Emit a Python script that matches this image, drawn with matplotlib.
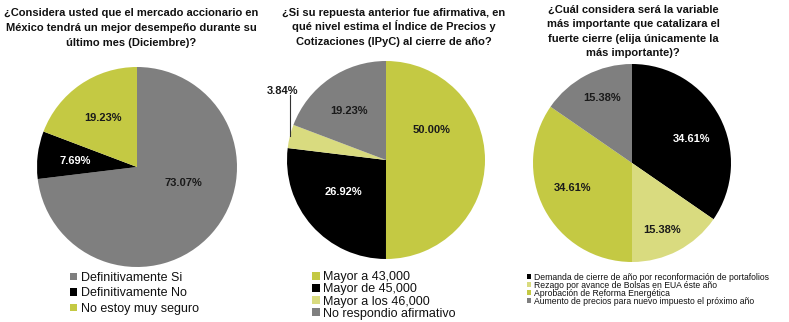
import matplotlib
matplotlib.use("Agg")
import matplotlib.pyplot as plt
import numpy as np

plt.rcParams['font.family'] = ['Liberation Sans', 'DejaVu Sans']

W, H = 789, 322

# ---- data ----
titles = [
    "¿Considera usted que el mercado accionario en\nMéxico tendrá un mejor desempeño durante su\núltimo mes (Diciembre)?",
    "¿Si su repuesta anterior fue afirmativa, en\nqué nivel estima el Índice de Precios y\nCotizaciones (IPyC) al cierre de año?",
    "¿Cuál considera será la variable\nmás importante que catalizara el\nfuerte cierre (elija únicamente la\nmás importante)?",
]
labels1 = ["Definitivamente Si", "Definitivamente No", "No estoy muy seguro"]
values1 = [73.07, 7.69, 19.23]
labels2 = ["Mayor a 43,000", "Mayor de 45,000", "Mayor a los 46,000", "No respondio afirmativo"]
values2 = [50.00, 26.92, 3.84, 19.23]
labels3 = ["Demanda de cierre de año por reconformación de portafolios",
           "Rezago por avance de Bolsas en EUA éste año",
           "Aprobación de Reforma Energética",
           "Aumento de precios para nuevo impuesto el próximo año"]
values3 = [34.61, 15.38, 34.61, 15.38]

# ---- style ----
GRAY = "#7f7f7f"
BLACK = "#000000"
YG = "#c4c943"
LIGHT = "#d9db7f"
colors1 = [GRAY, BLACK, YG]
colors2 = [YG, BLACK, LIGHT, GRAY]
colors3 = [BLACK, LIGHT, YG, GRAY]
txtc1 = ["#1a1a1a", "white", "#1a1a1a"]
txtc2 = ["#1a1a1a", "white", "#1a1a1a", "#1a1a1a"]
txtc3 = ["white", "#1a1a1a", "#1a1a1a", "#1a1a1a"]
# label placement (radius, angle deg) per wedge; None = outside label
place1 = [(0.49, -19), (0.62, 174), (0.60, 125)]
place2 = [(0.55, 33), (0.54, 217), None, (0.62, 127)]
place3 = [(0.65, 22), (0.74, -66), (0.65, 203), (0.72, 115)]

# pie geometry in pixels: (cx, cy, r)
geo = [(137, 167, 100), (386, 160, 99), (632, 163, 99)]

fig = plt.figure(figsize=(W / 100, H / 100), dpi=100)
fig.patch.set_facecolor("white")


def make_ax(cx, cy, r):
    ax = fig.add_axes([(cx - r) / W, (H - cy - r) / H, 2 * r / W, 2 * r / H])
    return ax


def draw(ax, vals, cols, tcols, place):
    wedges, _ = ax.pie(vals, colors=cols, startangle=90, counterclock=False,
                       wedgeprops=dict(linewidth=0))
    ax.set_xlim(-1, 1)
    ax.set_ylim(-1, 1)
    ax.set_aspect('equal')
    for v, tc, p in zip(vals, tcols, place):
        if p is None:
            continue
        rr, a = p
        ax.text(rr * np.cos(np.radians(a)), rr * np.sin(np.radians(a)),
                f"{v:.2f}%", ha='center', va='center', color=tc,
                fontsize=8, fontweight='bold')
    return wedges


axes = []
for g in geo:
    axes.append(make_ax(*g))

w1 = draw(axes[0], values1, colors1, txtc1, place1)
w2 = draw(axes[1], values2, colors2, txtc2, place2)
w3 = draw(axes[2], values3, colors3, txtc3, place3)

# outside label for 3.84% slice
ax2 = axes[1]
th = w2[2]
mid = np.radians((th.theta1 + th.theta2) / 2)
x0, y0 = np.cos(mid), np.sin(mid)
ax2.plot([x0, x0], [y0, 0.66], color="#333333", lw=0.8, clip_on=False)
ax2.text(-1.05, 0.70, f"{values2[2]:.2f}%", ha='center', va='center',
         color="#1a1a1a", fontsize=8, fontweight='bold', clip_on=False)

# titles (each line placed on its own baseline for even spacing)
title_x = [131, 394, 633]
title_base = [16.3, 15.7, 12.3]
line_step = 14.6
for t, x, b in zip(titles, title_x, title_base):
    for i, line in enumerate(t.split("\n")):
        fig.text(x / W, 1 - (b + i * line_step) / H, line, ha='center',
                 va='baseline', fontsize=8, fontweight='bold', color="#111111")

# legends
def legend(ax, wedges, labels, x, y, fs, spacing, hl):
    leg = ax.legend(wedges, labels, loc='upper left',
                    bbox_to_anchor=(x / W, 1 - y / H),
                    bbox_transform=fig.transFigure, frameon=False,
                    fontsize=fs, handlelength=hl, handleheight=hl,
                    handletextpad=0.3, labelspacing=spacing,
                    borderpad=0, borderaxespad=0)
    for t in leg.get_texts():
        t.set_color("#111111")
    return leg

legend(axes[0], w1, labels1, 70, 272, 9, 0.27, 0.55)
legend(axes[1], w2, labels2, 312, 271, 9, 0.02, 0.6)
legend(axes[2], w3, labels3, 527, 273, 6.2, -0.12, 0.5)

fig.savefig("out.png", dpi=100, facecolor="white")
